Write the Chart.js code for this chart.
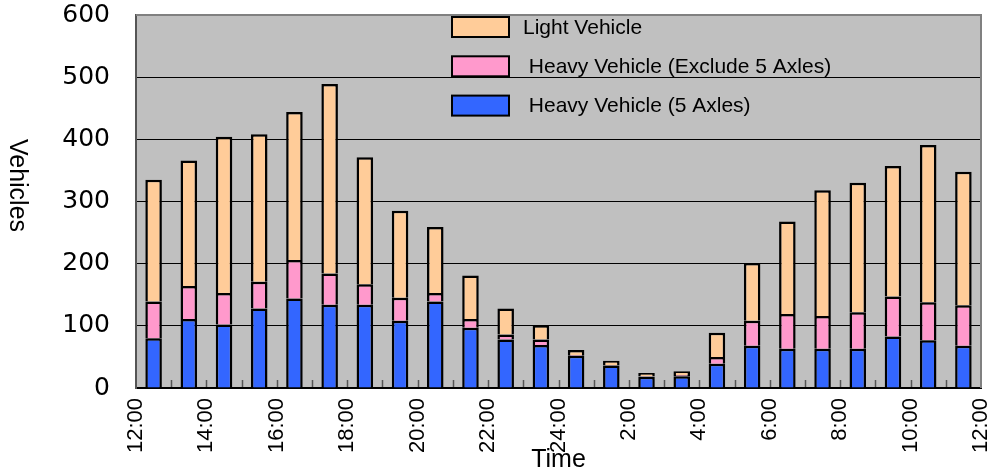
<!DOCTYPE html>
<html>
<head>
<meta charset="utf-8">
<title>Hourly traffic volume</title>
<script src="https://cdn.jsdelivr.net/npm/chart.js@4.4.1/dist/chart.umd.min.js"></script>
<style>
  html, body { margin: 0; padding: 0; background: #fff; }
  #wrap { width: 993px; height: 475px; }
</style>
</head>
<body>
<div id="wrap"><canvas id="chart" width="993" height="475"></canvas></div>
<script>
// Hour slots, starting 12:00 and running for 24 hours
const hourSlots = ['12:00','13:00','14:00','15:00','16:00','17:00','18:00','19:00',
                   '20:00','21:00','22:00','23:00','24:00','1:00','2:00','3:00',
                   '4:00','5:00','6:00','7:00','8:00','9:00','10:00','11:00'];

// Vehicles counted per hour, by class
const heavy5Axles = [80, 111, 102, 128, 144, 134, 134, 108, 139, 97, 78, 69,
                     52, 36, 18, 19, 39, 68, 63, 63, 63, 83, 77, 68];
const heavyOther  = [59, 53, 51, 43, 62, 50, 33, 37, 14, 14, 8, 9,
                     1, 1, 1, 2, 11, 40, 56, 53, 59, 64, 61, 65];
const lightVeh    = [196, 202, 251, 237, 238, 305, 204, 140, 106, 70, 42, 23,
                     8, 7, 5, 6, 39, 93, 149, 202, 208, 210, 253, 215];

// Labels on the time axis, every two hours
const timeTicks = ['12:00','14:00','16:00','18:00','20:00','22:00','24:00',
                   '2:00','4:00','6:00','8:00','10:00','12:00'];

const SANS = "'Liberation Sans', Arial, Helvetica, sans-serif";

// each bar sits in the middle of its hour slot on a 0..24 hour axis
const toPoints = vals => vals.map((v, i) => ({ x: i + 0.5, y: v, slot: hourSlots[i] }));

const barStyle = {
  borderColor: '#000',
  borderWidth: 2.5,
  categoryPercentage: 1,
  barPercentage: 0.47
};

const plotFrame = {
  id: 'plotFrame',
  beforeDraw(chart) {
    const { ctx, chartArea: a } = chart;
    ctx.save();
    ctx.fillStyle = '#c0c0c0';
    ctx.fillRect(a.left, a.top, a.right - a.left, a.bottom - a.top);
    ctx.restore();
  },
  afterDatasetsDraw(chart) {
    const { ctx, chartArea: a, scales } = chart;
    ctx.save();
    // short inward marks at each hour boundary
    ctx.strokeStyle = '#555';
    ctx.lineWidth = 1.5;
    for (let h = 1; h < 24; h++) {
      const x = Math.round(scales.x.getPixelForValue(h)) + 0.5;
      ctx.beginPath();
      ctx.moveTo(x, a.bottom - 1);
      ctx.lineTo(x, a.bottom - 8);
      ctx.stroke();
    }
    // top and right edges of the plot
    ctx.strokeStyle = '#808080';
    ctx.lineWidth = 2;
    ctx.beginPath();
    ctx.moveTo(a.left, a.top);
    ctx.lineTo(a.right, a.top);
    ctx.lineTo(a.right, a.bottom);
    ctx.stroke();

    // legend, top item first
    const items = chart.data.datasets.slice().reverse();
    const boxL = a.left + 316, boxW = 57, boxH = 20;
    ctx.font = '21px ' + SANS;
    ctx.textBaseline = 'middle';
    ctx.textAlign = 'left';
    items.forEach((ds, i) => {
      const top = a.top + 2 + i * 39.3;
      ctx.fillStyle = ds.backgroundColor;
      ctx.fillRect(boxL, top, boxW, boxH);
      ctx.strokeStyle = '#000';
      ctx.lineWidth = 2;
      ctx.strokeRect(boxL, top, boxW, boxH);
      ctx.fillStyle = '#000';
      ctx.fillText(ds.label, boxL + boxW + 14, top + boxH / 2 + 1);
    });

    // value axis title, reading downward
    ctx.save();
    ctx.translate(17, (a.top + a.bottom) / 2 - 16);
    ctx.rotate(Math.PI / 2);
    ctx.font = '25px ' + SANS;
    ctx.textAlign = 'center';
    ctx.textBaseline = 'middle';
    ctx.fillStyle = '#000';
    ctx.fillText('Vehicles', 0, 0);
    ctx.restore();
    ctx.restore();
  }
};

new Chart(document.getElementById('chart'), {
  type: 'bar',
  data: {
    datasets: [
      Object.assign({ label: ' Heavy Vehicle (5 Axles)', data: toPoints(heavy5Axles), backgroundColor: '#3366ff' }, barStyle),
      Object.assign({ label: ' Heavy Vehicle (Exclude 5 Axles)', data: toPoints(heavyOther), backgroundColor: '#ff99cc' }, barStyle),
      Object.assign({ label: 'Light Vehicle', data: toPoints(lightVeh), backgroundColor: '#ffcc99' }, barStyle)
    ]
  },
  options: {
    responsive: false,
    animation: false,
    layout: { padding: { left: 0, top: 15, right: 12, bottom: 0 } },
    plugins: { legend: { display: false }, tooltip: { enabled: false } },
    scales: {
      x: {
        type: 'linear',
        min: 0,
        max: 24,
        offset: false,
        stacked: true,
        grid: { display: false, drawTicks: false, offset: false },
        border: { display: true, color: '#000', width: 2 },
        ticks: {
          stepSize: 2,
          autoSkip: false,
          minRotation: 90,
          maxRotation: 90,
          padding: 10,
          color: '#000',
          font: { family: SANS, size: 22 },
          callback: v => timeTicks[v / 2]
        },
        title: {
          display: true,
          text: 'Time',
          color: '#000',
          font: { family: SANS, size: 25 },
          padding: { top: 0, bottom: 0 }
        },
        afterFit: s => {
          s.height = 87;
          s.paddingLeft = 0;
          s.paddingRight = 0;
        }
      },
      y: {
        min: 0,
        max: 600,
        stacked: true,
        grid: {
          drawTicks: false,
          lineWidth: 1,
          color: c => (c.tick && c.tick.value === 600) ? '#808080' : '#000'
        },
        border: { color: '#555', width: 2 },
        ticks: {
          stepSize: 100,
          padding: 26,
          color: '#000',
          font: { family: "'DejaVu Sans', sans-serif", size: 25 }
        },
        afterFit: s => {
          s.width = 136;
          s.paddingTop = 0;
          s.paddingBottom = 0;
        }
      }
    }
  },
  plugins: [plotFrame]
});
</script>
</body>
</html>
